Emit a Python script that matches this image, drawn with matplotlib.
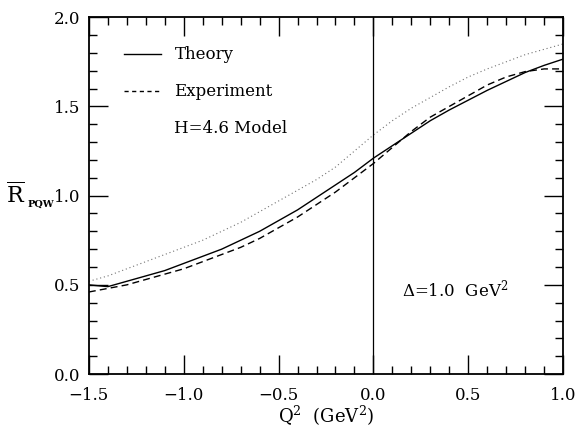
import numpy as np
import matplotlib
matplotlib.use("Agg")
import matplotlib.pyplot as plt
from matplotlib.lines import Line2D
from matplotlib.ticker import MultipleLocator

plt.rcParams['font.family'] = ['DejaVu Serif']
plt.rcParams['mathtext.fontset'] = 'dejavuserif'

# Q^2 grid (GeV^2)
q2 = [-1.5, -1.4, -1.3, -1.2, -1.1, -1.0, -0.9, -0.8, -0.7, -0.6, -0.5, -0.4, -0.3,
      -0.2, -0.1, 0.0, 0.1, 0.2, 0.3, 0.4, 0.5, 0.6, 0.7, 0.8, 0.9, 1.0]

r_theory = [0.50, 0.49, 0.52, 0.55, 0.58, 0.62, 0.66, 0.70, 0.75, 0.80, 0.86, 0.92, 0.99,
            1.06, 1.13, 1.21, 1.28, 1.35, 1.42, 1.48, 1.535, 1.59, 1.64, 1.69, 1.73, 1.765]
r_experiment = [0.46, 0.48, 0.50, 0.53, 0.56, 0.59, 0.63, 0.67, 0.71, 0.76, 0.82, 0.88, 0.95,
                1.02, 1.10, 1.18, 1.27, 1.36, 1.44, 1.50, 1.56, 1.62, 1.665, 1.695, 1.71, 1.71]
r_model = [0.52, 0.55, 0.59, 0.63, 0.67, 0.71, 0.75, 0.80, 0.85, 0.91, 0.97, 1.03, 1.09,
           1.16, 1.25, 1.34, 1.42, 1.49, 1.55, 1.61, 1.665, 1.71, 1.75, 1.79, 1.82, 1.85]

fig = plt.figure(figsize=(5.77, 4.29), dpi=100)
ax = fig.add_axes([0.154, 0.128, 0.822, 0.832])

ax.plot(q2, r_theory, color='black', lw=1.0)
ax.plot(q2, r_experiment, color='black', lw=1.0, linestyle=(0, (5, 3)))
ax.plot(q2, r_model, color='0.45', lw=0.8, linestyle=(0, (1, 2.5)))
ax.axvline(0.0, color='black', lw=0.9)

ax.set_xlim(-1.5, 1.0)
ax.set_ylim(0.0, 2.0)
ax.xaxis.set_major_locator(MultipleLocator(0.5))
ax.xaxis.set_minor_locator(MultipleLocator(0.1))
ax.yaxis.set_major_locator(MultipleLocator(0.5))
ax.yaxis.set_minor_locator(MultipleLocator(0.1))
ax.xaxis.set_major_formatter(lambda v, p: f"{v:.1f}".replace("-", "\u2212"))
ax.yaxis.set_major_formatter(lambda v, p: f"{v:.1f}")
ax.tick_params(which='both', direction='in', top=True, right=True, labelsize=12, width=1.0)
ax.tick_params(which='major', length=14)
ax.tick_params(axis='x', which='major', pad=9)
ax.tick_params(axis='y', which='major', pad=6)
ax.tick_params(which='minor', length=6)
for s in ax.spines.values():
    s.set_linewidth(1.3)

ax.set_xlabel(r'Q$^2$  (GeV$^2$)', fontsize=13, labelpad=0)

# y label: R-bar with a small bold PQW subscript
fig.text(0.010, 0.526, r'$\overline{\mathrm{R}}$', fontsize=16, ha='left', va='baseline')
fig.text(0.047, 0.519, 'PQW', fontsize=7, fontweight='bold', ha='left', va='baseline')

ax.text(0.153, 0.476, r'$\Delta$=1.0  GeV$^2$', fontsize=12, ha='left', va='center')

handles = [Line2D([], [], color='black', lw=1.0),
           Line2D([], [], color='black', lw=1.0, linestyle=(0, (3, 2.5))),
           Line2D([], [], color='none')]
ax.legend(handles, ['Theory', 'Experiment', 'H=4.6 Model'], loc='upper left',
          bbox_to_anchor=(0.075, 0.918), frameon=False, fontsize=12,
          handlelength=2.2, handletextpad=0.8, labelspacing=1.2, borderpad=0,
          borderaxespad=0)

fig.savefig('out.png', dpi=100)
